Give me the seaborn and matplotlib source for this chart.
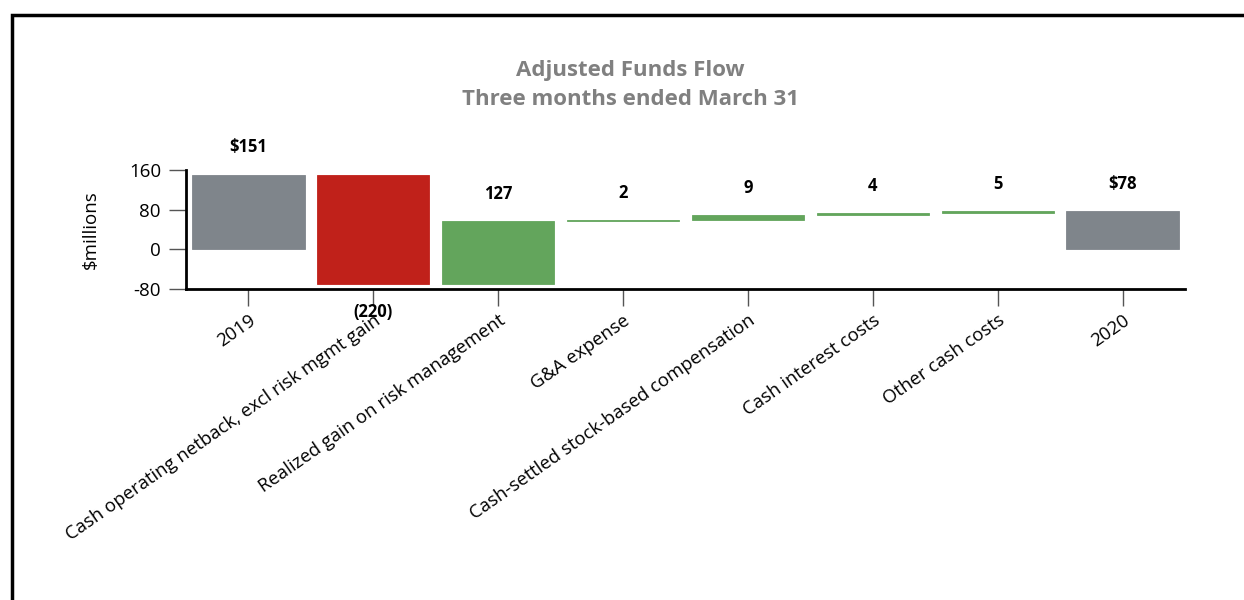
import numpy as np
import pandas as pd
import matplotlib
matplotlib.use("Agg")
import matplotlib.pyplot as plt
from matplotlib.patches import Rectangle
import seaborn as sns

categories = ["2019", "Cash operating netback, excl risk mgmt gain",
              "Realized gain on risk management", "G&A expense",
              "Cash-settled stock-based compensation", "Cash interest costs",
              "Other cash costs", "2020"]
changes = [151, -220, 127, 2, 9, 4, 5, 78]
kinds = ["total", "delta", "delta", "delta", "delta", "delta", "delta", "total"]
labels = ["$151", "(220)", "127", "2", "9", "4", "5", "$78"]
yticks = [-80, 0, 80, 160]

GRAY = "#7F858B"
RED = "#C0211A"
GREEN = "#63A55C"

# waterfall geometry
bottoms, heights = [], []
run = 0
for c, k in zip(changes, kinds):
    if k == "total":
        bottoms.append(0)
        heights.append(c)
        run = c
    else:
        bottoms.append(run)
        heights.append(c)
        run += c
colors = [GRAY if k == "total" else (RED if c < 0 else GREEN) for c, k in zip(changes, kinds)]

df = pd.DataFrame({"cat": categories, "h": heights})

sns.set_theme(style="white")
plt.rcParams["font.family"] = ["Open Sans", "DejaVu Sans"]

fig = plt.figure(figsize=(12.44, 6), dpi=100)
ax = fig.add_axes([0.1495, 0.5183, 0.8031, 0.1983])

sns.barplot(data=df, x="cat", y="h", bottom=bottoms, color=GRAY, width=0.9,
            errorbar=None, ax=ax, linewidth=0, saturation=1)
for p, col in zip(ax.patches, colors):
    p.set_facecolor(col)
    p.set_edgecolor(col)
    p.set_linewidth(0.6)

ax.set_xlim(-0.5, 7.5)
ax.set_ylim(-80, 160)
ax.set_yticks(yticks)
ax.set_yticklabels([str(v) for v in yticks], fontsize=13.5, color="black")
ax.set_xticks(range(len(categories)))
ax.set_xticklabels(categories, rotation=35, ha="right", rotation_mode="anchor",
                   fontsize=13.3, color="black")
ax.set_xlabel("")
ax.set_ylabel("$millions", fontsize=13.5, color="black", labelpad=21)

for s in ["top", "right"]:
    ax.spines[s].set_visible(False)
for s in ["left", "bottom"]:
    ax.spines[s].set_color("black")
    ax.spines[s].set_linewidth(2)
ax.tick_params(axis="both", which="both", direction="out", length=12, width=1,
               color="#555555", pad=4, left=True, bottom=True)
ax.tick_params(axis="y", pad=6)

# value labels
for i, (b, h, lab) in enumerate(zip(bottoms, heights, labels)):
    top = max(b, b + h)
    low = min(b, b + h)
    if h < 0:
        ax.annotate(lab, (i, low), xytext=(0, -14), textcoords="offset points",
                    ha="center", va="top", fontsize=12, fontweight="bold", color="black",
                    annotation_clip=False)
    else:
        ax.annotate(lab, (i, top), xytext=(0, 13), textcoords="offset points",
                    ha="center", va="bottom", fontsize=12, fontweight="bold", color="black",
                    annotation_clip=False)

fig.text(0.507, 0.858, "Adjusted Funds Flow\nThree months ended March 31",
         ha="center", va="center", fontsize=16, fontweight="bold", color="#808080",
         linespacing=1.5)

# outer border (top and left visible)
fig.add_artist(Rectangle((0.0095, -0.05), 1.2, 1.025, transform=fig.transFigure,
                         fill=False, edgecolor="black", linewidth=2.5))

fig.savefig("out.png", dpi=100, facecolor="white")
